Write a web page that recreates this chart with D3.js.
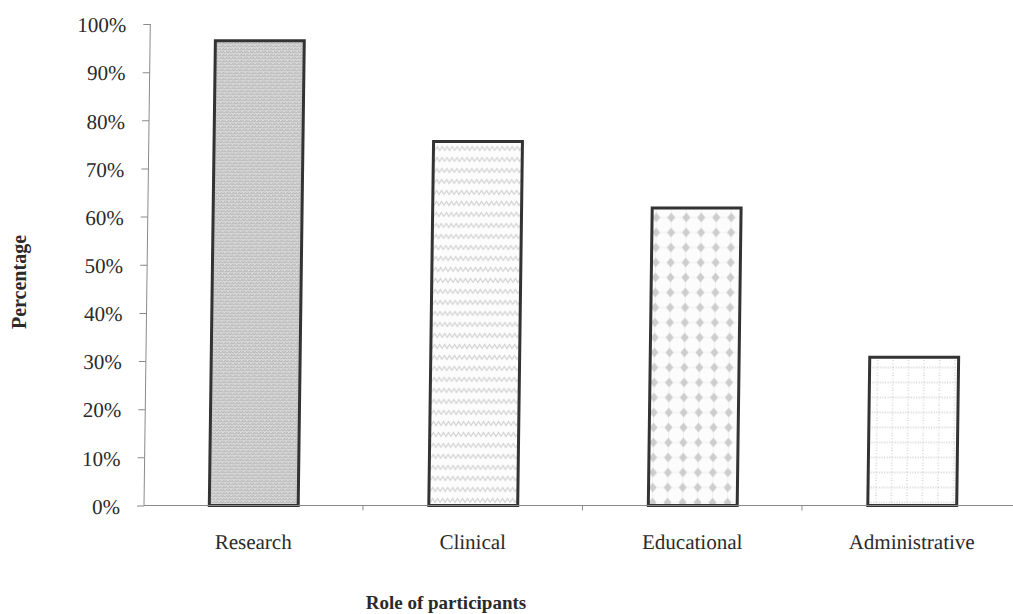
<!DOCTYPE html>
<html>
<head>
<meta charset="utf-8">
<script src="https://cdn.jsdelivr.net/npm/d3@7"></script>
<style>
  html, body { margin: 0; padding: 0; background: #ffffff; }
  svg { display: block; }
  text { font-family: "Liberation Serif", "Times New Roman", serif; fill: #2a2a2a; }
</style>
</head>
<body>
<svg id="chart" width="1013" height="614"></svg>
<script>
// Share of participants by role
const categories = ["Research", "Clinical", "Educational", "Administrative"];
const percentages = [96.5, 75.6, 61.8, 30.8];
const yTicks = [0, 10, 20, 30, 40, 50, 60, 70, 80, 90, 100];
const fillPatterns = ["fill-weave", "fill-wave", "fill-diamond", "fill-grid"];

const svg = d3.select("#chart");

const x0 = 144, x1 = 1022;   // x axis runs past the right edge
const yTop = 24, yBase = 505.5;

const x = d3.scaleBand()
  .domain(categories)
  .range([x0, x1])
  .paddingInner(0.595)
  .paddingOuter(0.2975);

const y = d3.scaleLinear().domain([0, 100]).range([yBase, yTop]);

const defs = svg.append("defs");

// Grey weave texture
const pw = defs.append("pattern").attr("id", "fill-weave")
  .attr("patternUnits", "userSpaceOnUse").attr("width", 6).attr("height", 6);
pw.append("rect").attr("width", 6).attr("height", 6).attr("fill", "#d8d8d8");
pw.append("path").attr("d", "M0,2 L1.5,0.5 L3,2 L4.5,0.5 L6,2 M0,5 L1.5,3.5 L3,5 L4.5,3.5 L6,5")
  .attr("fill", "none").attr("stroke", "#b4b4b4").attr("stroke-width", 0.9);
pw.append("rect").attr("x", 2.6).attr("y", 2.6).attr("width", 1.2).attr("height", 1.2).attr("fill", "#f0f0f0");
pw.append("rect").attr("x", 5.0).attr("y", 0.1).attr("width", 1).attr("height", 1).attr("fill", "#eeeeee");

// Light wavy lines
const pv = defs.append("pattern").attr("id", "fill-wave")
  .attr("patternUnits", "userSpaceOnUse").attr("width", 10).attr("height", 11);
pv.append("rect").attr("width", 10).attr("height", 11).attr("fill", "#fcfcfc");
pv.append("path").attr("d", "M0,7.5 L2.5,3.5 L5,7.5 L7.5,3.5 L10,7.5")
  .attr("fill", "none").attr("stroke", "#c9c9c9").attr("stroke-width", 1);

// Diamond check
const pd = defs.append("pattern").attr("id", "fill-diamond")
  .attr("patternUnits", "userSpaceOnUse").attr("width", 15).attr("height", 15);
pd.append("rect").attr("width", 15).attr("height", 15).attr("fill", "#fcfcfc");
pd.append("path").attr("d", "M0,7.5 H15 M7.5,0 V15").attr("stroke", "#f1f1f1").attr("stroke-width", 1);
pd.append("path").attr("d", "M7.5,2.5 L11.5,7.5 L7.5,12.5 L3.5,7.5 Z").attr("fill", "#cdcdcd");

// Dotted grid
const pg = defs.append("pattern").attr("id", "fill-grid")
  .attr("patternUnits", "userSpaceOnUse").attr("width", 15.5).attr("height", 15);
pg.append("rect").attr("width", 15.5).attr("height", 15).attr("fill", "#ffffff");
pg.append("path").attr("d", "M0,7.5 H15.5").attr("stroke", "#a3a3a3").attr("stroke-width", 0.9).attr("stroke-dasharray", "1,1.6");
pg.append("path").attr("d", "M7.75,0 V15").attr("stroke", "#b8b8b8").attr("stroke-width", 0.9).attr("stroke-dasharray", "1,2.2");

// The whole figure leans slightly to the right toward the top
const g = svg.append("g")
  .attr("transform", `translate(0,${yBase}) skewX(-0.75) translate(0,${-yBase})`);

// Bars
g.selectAll("rect.bar")
  .data(categories)
  .join("rect")
  .attr("class", "bar")
  .attr("x", d => x(d))
  .attr("y", (d, i) => y(percentages[i]))
  .attr("width", x.bandwidth())
  .attr("height", (d, i) => y(0) - y(percentages[i]))
  .attr("fill", (d, i) => `url(#${fillPatterns[i]})`)
  .attr("stroke", "#333333")
  .attr("stroke-width", 3);

// Y axis
const yAxis = d3.axisLeft(y)
  .tickValues(yTicks)
  .tickSize(7)
  .tickPadding(17)
  .tickFormat(d => d + "%");

const ya = g.append("g").attr("transform", `translate(${x0},0)`).call(yAxis);
ya.select(".domain").attr("stroke", "#8a8a8a").attr("stroke-width", 1).attr("d", `M0,${yTop}V${yBase}`);
ya.selectAll(".tick line").attr("stroke", "#8a8a8a");
ya.selectAll(".tick text")
  .attr("font-family", "'Liberation Serif', serif")
  .attr("font-size", 21)
  .attr("fill", "#2a2a2a")
  .attr("dy", "0.37em");

// X axis: category boundaries carry the ticks
const xa = g.append("g");
xa.append("line")
  .attr("x1", x0).attr("x2", x1)
  .attr("y1", yBase).attr("y2", yBase)
  .attr("stroke", "#8a8a8a").attr("stroke-width", 1);
xa.selectAll("line.sep")
  .data(categories.slice(1))
  .join("line")
  .attr("class", "sep")
  .attr("x1", d => x(d) - x.step() * x.paddingInner() / 2 - 0.5)
  .attr("x2", d => x(d) - x.step() * x.paddingInner() / 2 - 0.5)
  .attr("y1", yBase).attr("y2", yBase + 5)
  .attr("stroke", "#8a8a8a");

xa.selectAll("text.cat")
  .data(categories)
  .join("text")
  .attr("class", "cat")
  .attr("x", d => x(d) + x.bandwidth() / 2)
  .attr("y", 549)
  .attr("text-anchor", "middle")
  .attr("font-size", 21)
  .text(d => d);

// Axis titles
svg.append("text")
  .attr("x", 446)
  .attr("y", 609)
  .attr("text-anchor", "middle")
  .attr("font-size", 19)
  .attr("font-weight", "bold")
  .text("Role of participants");

svg.append("text")
  .attr("transform", "translate(26,282) rotate(-90)")
  .attr("text-anchor", "middle")
  .attr("font-size", 20)
  .attr("font-weight", "bold")
  .text("Percentage");
</script>
</body>
</html>
